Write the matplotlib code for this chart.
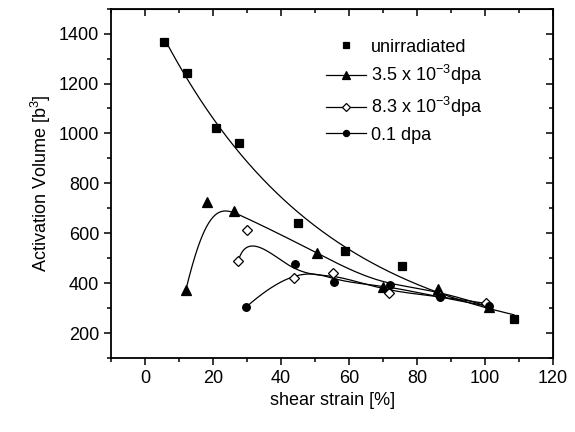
#!/usr/bin/env python3

import numpy as np
import matplotlib
matplotlib.use('Agg')
import matplotlib.pyplot as plt
from matplotlib.ticker import MultipleLocator

plt.rcParams['font.family'] = ['Liberation Sans', 'DejaVu Sans']
plt.rcParams['mathtext.fontset'] = 'custom'
plt.rcParams['mathtext.rm'] = 'Liberation Sans'

# shear strain [%], activation volume [b^3]
unirr_x = [5.7, 12.4, 20.8, 27.6, 45.0, 58.8, 75.6, 108.5]
unirr_y = [1367, 1241, 1023, 963, 642, 530, 470, 258]

low_x = [12.0, 18.3, 26.2, 50.5, 69.9, 86.0, 101.0]
low_y = [372, 727, 688, 523, 383, 376, 305]

mid_x = [27.4, 29.9, 43.9, 55.2, 71.6, 86.6, 100.2]
mid_y = [488, 612, 421, 443, 361, 349, 319]

high_x = [29.6, 44.0, 55.5, 72.1, 86.6, 101.0]
high_y = [303, 476, 403, 391, 343, 308]

labels = ['unirradiated', '3.5 x 10$^{-3}$dpa', '8.3 x 10$^{-3}$dpa', '0.1 dpa']


def basis(i, k, u, t):
  if k == 0:
    return ((t[i] <= u) & (u < t[i + 1])).astype(float)
  out = np.zeros_like(u)
  if t[i + k] != t[i]:
    out += (u - t[i]) / (t[i + k] - t[i]) * basis(i, k - 1, u, t)
  if t[i + k + 1] != t[i + 1]:
    out += (t[i + k + 1] - u) / (t[i + k + 1] - t[i + 1]) * basis(i + 1, k - 1, u, t)
  return out


def bspline(xs, ys, k=3, n=300):
  # clamped B-spline with the data points as control points
  m = len(xs)
  k = min(k, m - 1)
  t = np.concatenate([np.zeros(k), np.linspace(0, 1, m - k + 1), np.ones(k)])
  u = np.linspace(0, 1 - 1e-9, n)
  bx = np.zeros(n)
  by = np.zeros(n)
  for i in range(m):
    b = basis(i, k, u, t)
    bx += b * xs[i]
    by += b * ys[i]
  return bx, by


def expfit(xs, ys, n=300):
  # y = y0 + A*exp(-x/tau), least squares with a scan over tau
  xs = np.asarray(xs, float)
  ys = np.asarray(ys, float)
  best = None
  for tau in np.linspace(5, 300, 2000):
    M = np.column_stack([np.ones_like(xs), np.exp(-xs / tau)])
    coef, res, _, _ = np.linalg.lstsq(M, ys, rcond=None)
    err = np.sum((M @ coef - ys) ** 2)
    if best is None or err < best[0]:
      best = (err, tau, coef)
  _, tau, coef = best
  fx = np.linspace(xs.min(), xs.max(), n)
  return fx, coef[0] + coef[1] * np.exp(-fx / tau)


fig = plt.figure(figsize=(5.75, 4.32), dpi=100)
ax = fig.add_axes([0.193, 0.171, 0.769, 0.809])

series = [(unirr_x, unirr_y, 's', 'k', 5.5), (low_x, low_y, '^', 'k', 6.5),
          (mid_x, mid_y, 'D', 'white', 5.0), (high_x, high_y, 'o', 'k', 5.5)]

handles = []
for (xs, ys, m, fc, ms), lab in zip(series, labels):
  if lab == 'unirradiated':
    cx, cy = expfit(xs, ys)
  else:
    cx, cy = bspline(xs, ys)
  ax.plot(cx, cy, color='k', lw=0.9, zorder=2)
  ax.plot(xs, ys, ls='none', marker=m, ms=ms, mfc=fc, mec='k', mew=0.9, zorder=3)
  if lab == 'unirradiated':
    h, = ax.plot([], [], ls='none', marker=m, ms=ms * 0.8, mfc=fc, mec='k', mew=0.9, label=lab)
  else:
    h, = ax.plot([], [], ls='-', color='k', lw=0.9, marker=m, ms=ms * 0.8, mfc=fc, mec='k', mew=0.9, label=lab)
  handles.append(h)

ax.legend(handles=handles, loc='upper left', bbox_to_anchor=(0.47, 0.935), frameon=False,
          fontsize=13, handlelength=2.2, handletextpad=0.3, labelspacing=0.42, borderaxespad=0)

ax.set_xlim(-10, 120)
ax.set_ylim(100, 1500)
ax.xaxis.set_major_locator(MultipleLocator(20))
ax.xaxis.set_minor_locator(MultipleLocator(10))
ax.yaxis.set_major_locator(MultipleLocator(200))
ax.yaxis.set_minor_locator(MultipleLocator(100))
ax.tick_params(which='major', direction='out', length=5, width=1.1, labelsize=13)
ax.tick_params(which='minor', direction='out', length=3, width=1.1)
for s in ax.spines.values():
  s.set_linewidth(1.3)

top = ax.secondary_xaxis('top')
top.xaxis.set_major_locator(MultipleLocator(20))
top.xaxis.set_minor_locator(MultipleLocator(10))
top.tick_params(which='both', direction='in', labeltop=False, width=1.1)
top.tick_params(which='major', length=5)
top.tick_params(which='minor', length=3)
right = ax.secondary_yaxis('right')
right.yaxis.set_major_locator(MultipleLocator(200))
right.yaxis.set_minor_locator(MultipleLocator(100))
right.tick_params(which='both', direction='in', labelright=False, width=1.1)
right.tick_params(which='major', length=5)
right.tick_params(which='minor', length=3)

ax.set_xlabel('shear strain [%]', fontsize=13, labelpad=4)
ax.set_ylabel('Activation Volume [b$^3$]', fontsize=13, labelpad=4)

plt.savefig('out.png', dpi=100)
plt.close()
